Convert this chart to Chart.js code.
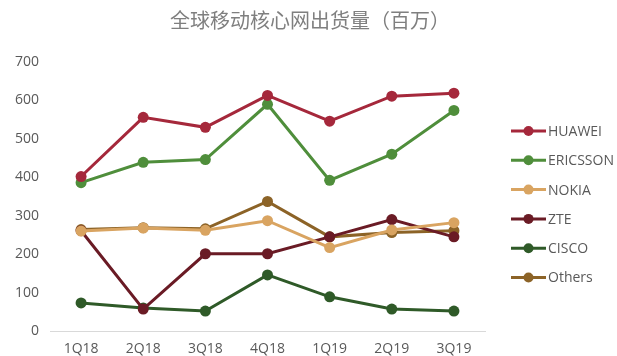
<!DOCTYPE html>
<html>
<head>
<meta charset="utf-8">
<script src="https://cdn.jsdelivr.net/npm/chart.js@4/dist/chart.umd.min.js"></script>
<style>
  html, body { margin: 0; padding: 0; background: #fff; }
  #wrap { width: 617px; height: 356px; }
</style>
</head>
<body>
<div id="wrap"><canvas id="chart" width="617" height="356"></canvas></div>
<script>
const quarters = ["1Q18", "2Q18", "3Q18", "4Q18", "1Q19", "2Q19", "3Q19"];
const huawei   = [402, 556, 530, 613, 546, 611, 619];
const ericsson = [386, 439, 446, 590, 392, 460, 574];
const nokia    = [260, 268, 262, 287, 217, 263, 282];
const zte      = [261, 57, 201, 201, 245, 290, 245];
const cisco    = [73, 60, 52, 146, 89, 57, 52];
const others   = [264, 269, 266, 337, 245, 256, 261];
const yTicks   = [0, 100, 200, 300, 400, 500, 600, 700];
const chartTitle = "全球移动核心网出货量（百万）";

const series = [
  { label: "HUAWEI",   data: huawei,   color: "#a5283b" },
  { label: "ERICSSON", data: ericsson, color: "#4f8e3b" },
  { label: "NOKIA",    data: nokia,    color: "#d9a461" },
  { label: "ZTE",      data: zte,      color: "#6a1b25" },
  { label: "CISCO",    data: cisco,    color: "#2f5a28" },
  { label: "Others",   data: others,   color: "#8c6327" }
];

// title centred on the whole canvas, legend on the right (line + dot + name)
const sideLegend = {
  id: "sideLegend",
  afterDraw(chart) {
    const ctx = chart.ctx;
    ctx.save();
    ctx.font = "20px 'Noto Sans CJK SC', sans-serif";
    ctx.fillStyle = "#7f7f7f";
    ctx.textAlign = "center";
    ctx.textBaseline = "middle";
    ctx.fillText(chartTitle, 310, 20);

    ctx.textAlign = "left";
    ctx.font = "14px 'Open Sans', sans-serif";
    chart.data.datasets.forEach((ds, i) => {
      const y = 131 + i * 29.3;
      const x = 511;
      ctx.strokeStyle = ds.borderColor;
      ctx.lineWidth = 3;
      ctx.beginPath();
      ctx.moveTo(x, y);
      ctx.lineTo(x + 35, y);
      ctx.stroke();
      ctx.fillStyle = ds.borderColor;
      ctx.beginPath();
      ctx.arc(x + 17.5, y, 5, 0, Math.PI * 2);
      ctx.fill();
      ctx.fillStyle = "#595959";
      ctx.fillText(ds.label, x + 37, y + 1);
    });
    ctx.restore();
  }
};

new Chart(document.getElementById("chart").getContext("2d"), {
  type: "line",
  data: {
    labels: quarters,
    datasets: series.map(s => ({
      label: s.label,
      data: s.data,
      borderColor: s.color,
      backgroundColor: s.color,
      borderWidth: 3,
      pointRadius: 5.5,
      pointHoverRadius: 5.5,
      pointBackgroundColor: s.color,
      pointBorderWidth: 0,
      tension: 0
    }))
  },
  options: {
    responsive: false,
    animation: false,
    layout: { padding: { left: 12, right: 132, top: 62, bottom: 0 } },
    plugins: {
      legend: { display: false },
      tooltip: { enabled: false },
      title: { display: false }
    },
    scales: {
      x: {
        offset: true,
        grid: { display: false },
        border: { display: true, color: "#d9d9d9", width: 1 },
        ticks: { color: "#595959", font: { family: "'Open Sans', sans-serif", size: 14 }, padding: 2 },
        afterFit: axis => { axis.height = 25; }
      },
      y: {
        min: 0,
        max: 700,
        afterBuildTicks: axis => { axis.ticks = yTicks.map(v => ({ value: v })); },
        grid: { display: false },
        border: { display: false },
        ticks: { color: "#595959", font: { family: "'Open Sans', sans-serif", size: 14 }, padding: 3 }
      }
    }
  },
  plugins: [sideLegend]
});
</script>
</body>
</html>
